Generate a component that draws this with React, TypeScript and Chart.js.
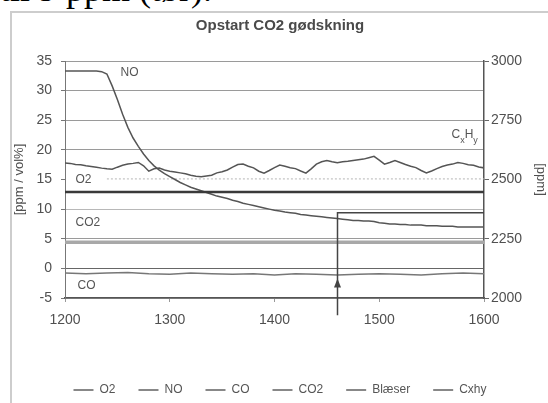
import React, { useEffect, useRef } from "react";
import { Chart, registerables } from "chart.js";

Chart.register(...registerables);

const TITLE = "Opstart CO2 gødskning";
const PAGE_TEXT = "til 9 ppm (tør).";
const SERIES = ["O2", "NO", "CO", "CO2", "Blæser", "Cxhy"];

const TIME = [
  1200, 1205, 1210, 1215, 1220, 1225, 1230, 1235, 1240, 1245,
  1250, 1255, 1260, 1265, 1270, 1275, 1280, 1285, 1290, 1295,
  1300, 1305, 1310, 1315, 1320, 1325, 1330, 1335, 1340, 1345,
  1350, 1355, 1360, 1365, 1370, 1375, 1380, 1385, 1390, 1395,
  1400, 1405, 1410, 1415, 1420, 1425, 1430, 1435, 1440, 1445,
  1450, 1455, 1460, 1465, 1470, 1475, 1480, 1485, 1490, 1495,
  1500, 1505, 1510, 1515, 1520, 1525, 1530, 1535, 1540, 1545,
  1550, 1555, 1560, 1565, 1570, 1575, 1580, 1585, 1590, 1595, 1600,
];

const NO_PPM = [
  33.3, 33.3, 33.3, 33.3, 33.3, 33.3, 33.3, 33.2, 32.8, 30.8,
  28.5, 26.0, 23.8, 22.0, 20.6, 19.3, 18.2, 17.3, 16.6, 16.0,
  15.5, 15.0, 14.5, 14.1, 13.7, 13.4, 13.1, 12.8, 12.5, 12.2,
  12.0, 11.8, 11.5, 11.3, 11.0, 10.8, 10.6, 10.4, 10.2, 10.0,
  9.8, 9.7, 9.5, 9.4, 9.3, 9.1, 9.0, 8.9, 8.8, 8.7,
  8.6, 8.5, 8.4, 8.3, 8.2, 8.1, 8.1, 8.0, 8.0, 7.9,
  7.7, 7.6, 7.5, 7.5, 7.4, 7.4, 7.3, 7.3, 7.3, 7.2,
  7.2, 7.2, 7.1, 7.1, 7.1, 7.0, 7.0, 7.0, 7.0, 7.0, 7.0,
];

const CXHY_PPM = [
  2570, 2568, 2563, 2562, 2558, 2555, 2552, 2548, 2545, 2543,
  2552, 2560, 2565, 2568, 2572, 2558, 2535, 2545, 2548, 2540,
  2535, 2532, 2528, 2524, 2518, 2514, 2512, 2515, 2518, 2528,
  2533, 2540, 2552, 2563, 2565, 2556, 2549, 2535, 2527, 2538,
  2550, 2561, 2556, 2550, 2546, 2536, 2527, 2545, 2565, 2575,
  2580, 2575, 2571, 2575, 2577, 2580, 2583, 2586, 2592, 2598,
  2582, 2565, 2572, 2580, 2572, 2563, 2556, 2550, 2538, 2528,
  2536, 2546, 2555, 2561, 2565, 2572, 2568, 2562, 2560, 2553, 2549,
];

const TIME_COARSE = [
  1200, 1220, 1240, 1260, 1280, 1300, 1320, 1340, 1360, 1380, 1400,
  1420, 1440, 1460, 1480, 1500, 1520, 1540, 1560, 1580, 1600,
];

const O2_VOL = [
  12.9, 12.9, 12.9, 12.9, 12.9, 12.9, 12.9, 12.9, 12.9, 12.9, 12.9,
  12.9, 12.9, 12.9, 12.9, 12.9, 12.9, 12.9, 12.9, 12.9, 12.9,
];

const CO2_VOL = [
  4.4, 4.4, 4.4, 4.4, 4.4, 4.4, 4.4, 4.4, 4.4, 4.4, 4.4,
  4.4, 4.4, 4.4, 4.4, 4.4, 4.4, 4.4, 4.4, 4.4, 4.4,
];

const CO_PPM = [
  -0.8, -0.9, -0.8, -0.7, -0.9, -1.0, -0.8, -0.9, -1.0, -0.9, -1.1,
  -0.9, -1.0, -1.1, -1.0, -0.9, -1.0, -1.1, -0.9, -0.8, -0.9,
];

const BLAESER = [
  null, null, 15.1, 15.1, 15.1, 15.1, 15.1, 15.1, 15.1, 15.1, 15.1,
  15.1, 15.1, 15.1, 15.1, 15.1, 15.1, 15.1, 15.1, 15.1, 15.1,
];

// in-plot text labels (data coordinates, left axis)
const LABEL_TEXT = ["NO", "O2", "CO2", "CO"];
const LABEL_X = [1253, 1210, 1210, 1212];
const LABEL_Y = [33.0, 14.9, 7.7, -2.9];
// CxHy label (right axis)
const CXHY_LABEL_X = 1569;
const CXHY_LABEL_Y = 2690;
// arrow annotation
const ARROW_X = 1460;
const ARROW_TOP = 9.4;
const ARROW_BOTTOM = -7.9;
const ARROW_TIP = -1.7;

const FONT = "'Liberation Sans', Arial, sans-serif";

const pts = (xs: number[], ys: (number | null)[]) =>
  xs.map((x, i) => ({ x, y: ys[i] }));

const annotationPlugin = {
  id: "annotations",
  afterDatasetsDraw(chart: any) {
    const { ctx, scales } = chart;
    const x = scales.x;
    const y = scales.y;
    const y1 = scales.y1;
    ctx.save();
    ctx.fillStyle = "#555";
    ctx.textBaseline = "middle";
    ctx.textAlign = "left";
    ctx.font = `12px ${FONT}`;
    LABEL_TEXT.forEach((t, i) => {
      ctx.fillText(t, x.getPixelForValue(LABEL_X[i]), y.getPixelForValue(LABEL_Y[i]));
    });
    // CxHy with subscripts
    const cx = x.getPixelForValue(CXHY_LABEL_X);
    const cy = y1.getPixelForValue(CXHY_LABEL_Y);
    ctx.font = `12px ${FONT}`;
    ctx.fillText("C", cx, cy);
    const wC = ctx.measureText("C").width;
    ctx.font = `9px ${FONT}`;
    ctx.fillText("x", cx + wC, cy + 6);
    const wx = ctx.measureText("x").width;
    ctx.font = `12px ${FONT}`;
    ctx.fillText("H", cx + wC + wx, cy);
    const wH = ctx.measureText("H").width;
    ctx.font = `9px ${FONT}`;
    ctx.fillText("y", cx + wC + wx + wH, cy + 6);

    // arrow annotation
    const ax = Math.round(x.getPixelForValue(ARROW_X)) + 0.5;
    const top = y.getPixelForValue(ARROW_TOP);
    ctx.strokeStyle = "#444";
    ctx.lineWidth = 1.5;
    ctx.beginPath();
    ctx.moveTo(ax, y.getPixelForValue(ARROW_BOTTOM));
    ctx.lineTo(ax, top);
    ctx.lineTo(x.getPixelForValue(1600), top);
    ctx.stroke();
    const tip = y.getPixelForValue(ARROW_TIP);
    ctx.fillStyle = "#444";
    ctx.beginPath();
    ctx.moveTo(ax, tip);
    ctx.lineTo(ax - 3.5, tip + 9);
    ctx.lineTo(ax + 3.5, tip + 9);
    ctx.closePath();
    ctx.fill();
    ctx.restore();
  },
};

export default function App() {
  const ref = useRef<HTMLCanvasElement>(null);

  useEffect(() => {
    if (!ref.current) return;
    Chart.defaults.font.family = FONT;
    const baseLabels = (Chart.defaults as any).plugins.legend.labels.generateLabels;
    const chart = new Chart(ref.current, {
      type: "line",
      data: {
        datasets: [
          {
            label: SERIES[0],
            data: pts(TIME_COARSE, O2_VOL),
            borderColor: "#3a3a3a",
            backgroundColor: "#3a3a3a",
            borderWidth: 2.5,
            yAxisID: "y",
          },
          {
            label: SERIES[1],
            data: pts(TIME, NO_PPM),
            borderColor: "#555",
            backgroundColor: "#555",
            borderWidth: 1.5,
            yAxisID: "y",
          },
          {
            label: SERIES[2],
            data: pts(TIME_COARSE, CO_PPM),
            borderColor: "#777",
            backgroundColor: "#777",
            borderWidth: 1.5,
            yAxisID: "y",
          },
          {
            label: SERIES[3],
            data: pts(TIME_COARSE, CO2_VOL),
            borderColor: "#a8a8a8",
            backgroundColor: "#a8a8a8",
            borderWidth: 3.5,
            yAxisID: "y",
          },
          {
            label: SERIES[4],
            data: pts(TIME_COARSE, BLAESER),
            borderColor: "#b5b5b5",
            backgroundColor: "#b5b5b5",
            borderWidth: 1,
            borderDash: [2, 2],
            yAxisID: "y",
          },
          {
            label: SERIES[5],
            data: pts(TIME, CXHY_PPM),
            borderColor: "#555",
            backgroundColor: "#555",
            borderWidth: 1.5,
            yAxisID: "y1",
          },
        ],
      },
      options: {
        responsive: false,
        animation: false,
        events: [],
        layout: { padding: { left: 12, top: 12, right: 0, bottom: -3 } },
        elements: { point: { radius: 0 }, line: { tension: 0 } },
        plugins: {
          title: {
            display: true,
            text: TITLE,
            color: "#4a4a4a",
            font: { size: 15, weight: "bold", family: FONT },
            padding: { top: 4.5, bottom: 26.5 },
          },
          legend: {
            position: "bottom",
            labels: {
              usePointStyle: true,
              pointStyle: "line",
              pointStyleWidth: 20,
              padding: 23,
              color: "#555",
              font: { size: 12, family: FONT },
              generateLabels: (c: any) =>
                baseLabels(c).map((l: any) => ({
                  ...l,
                  lineWidth: 1.5,
                  strokeStyle: "#606060",
                  fillStyle: "#606060",
                  lineDash: [],
                })),
            },
          },
          tooltip: { enabled: false },
        },
        scales: {
          x: {
            type: "linear",
            min: 1200,
            max: 1600,
            ticks: {
              stepSize: 100,
              color: "#505050",
              font: { size: 14 },
              padding: 10,
              callback: (v: any) => String(v),
            },
            grid: { drawOnChartArea: false, tickLength: 4, color: "#999" },
            border: { color: "#555", width: 1.5 },
            afterFit: (s: any) => {
              s.height = 63;
            },
          },
          y: {
            position: "left",
            min: -5,
            max: 35,
            ticks: {
              stepSize: 5,
              color: "#505050",
              font: { size: 14 },
              padding: 9,
              callback: (v: any) => String(v),
            },
            grid: {
              color: (c: any) => {
                const v = c.tick ? c.tick.value : null;
                if (v === 15) return "rgba(0,0,0,0)";
                if (v === 0) return "#666";
                if (v === 10) return "#b8b8b8";
                return "#9a9a9a";
              },
              tickColor: "#777",
              tickLength: 4,
              lineWidth: 1,
            },
            border: { color: "#777", width: 1 },
            title: {
              display: true,
              text: "[ppm / vol%]",
              color: "#505050",
              font: { size: 13 },
              padding: 0,
            },
            afterFit: (s: any) => {
              s.width = 53;
            },
          },
          y1: {
            position: "right",
            min: 2000,
            max: 3000,
            ticks: {
              stepSize: 250,
              color: "#505050",
              font: { size: 14 },
              padding: 2,
              callback: (v: any) => String(v),
            },
            grid: { drawOnChartArea: false, tickLength: 5, color: "#666" },
            border: { color: "#555", width: 1.5 },
            title: {
              display: true,
              text: "[ppm]",
              color: "#505050",
              font: { size: 13 },
              padding: 0,
            },
            afterFit: (s: any) => {
              s.width = 64;
            },
          },
        },
      },
      plugins: [annotationPlugin],
    } as any);
    return () => chart.destroy();
  }, []);

  return (
    <div
      style={{
        position: "fixed",
        left: 0,
        top: 0,
        width: 548,
        height: 403,
        overflow: "hidden",
        background: "#fff",
      }}
    >
      <div
        style={{
          position: "absolute",
          left: 0,
          top: -29,
          fontFamily: "'Liberation Serif', 'Times New Roman', serif",
          fontSize: 36,
          lineHeight: "36px",
          whiteSpace: "nowrap",
          color: "#000",
        }}
      >
        {PAGE_TEXT}
      </div>
      <div
        style={{
          position: "absolute",
          left: 10,
          top: 11,
          width: 600,
          height: 500,
          border: "2px solid #cdcdcd",
          boxSizing: "border-box",
        }}
      />
      <canvas
        ref={ref}
        width={548}
        height={403}
        style={{ position: "absolute", left: 0, top: 0, width: 548, height: 403 }}
      />
    </div>
  );
}
